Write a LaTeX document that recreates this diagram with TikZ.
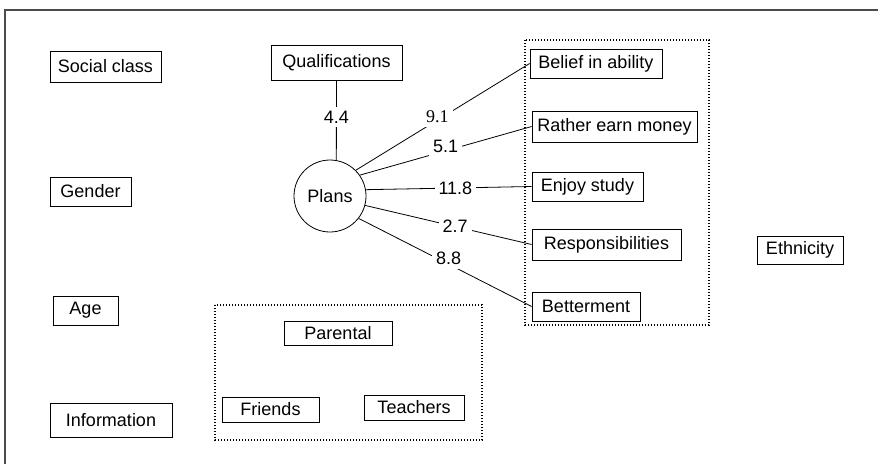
\documentclass[tikz,border=0pt]{standalone}
\usepackage{fontspec}
\setmainfont{Liberation Sans}
\newfontfamily\timesfont{Liberation Serif}
\usetikzlibrary{arrows.meta}

\begin{document}
\begin{tikzpicture}[
    x=1pt, y=-1pt,
    every node/.style={font=\fontsize{18}{21}\selectfont},
    factor/.style={draw, line width=0.8pt, inner sep=0pt, minimum height=29pt},
    hub/.style={draw, circle, line width=0.8pt, inner sep=0pt, minimum size=72pt},
    group/.style={line width=1.3pt, dash pattern=on 1.2pt off 1.8pt},
    link/.style={line width=0.8pt},
    odds/.style={fill=white, inner sep=4pt}
]
\useasboundingbox (0,0) rectangle (878,464);
\draw[line width=1.5pt, black!70] (878,10) -- (5,10) -- (5,464);

% groups of factors
\draw[group] (525,40) rectangle (709,325);
\draw[group] (215,305) rectangle (482,440);

% left column
\node[factor, minimum width=111pt, minimum height=31pt] (social) at (105.5,66.5) {Social class};
\node[factor, minimum width=81pt] (gender) at (90.5,191.5) {Gender};
\node[factor, minimum width=65pt] (age) at (85.5,310.5) {Age};
\node[factor, minimum width=122pt, minimum height=34pt] (info) at (111,420) {Information};

% centre
\node[factor, minimum width=131pt, minimum height=35pt] (qual) at (336.5,62.5) {Qualifications};
\node[hub] (plans) at (330,196) {Plans};

% right column
\node[factor, minimum width=132pt] (belief) at (596,63.5) {Belief in ability};
\node[factor, minimum width=165pt, minimum height=31pt] (money) at (614.5,126.5) {Rather earn money};
\node[factor, minimum width=111pt] (enjoy) at (587.5,186.5) {Enjoy study};
\node[factor, minimum width=149pt, minimum height=31pt] (resp) at (606.5,244.5) {Responsibilities};
\node[factor, minimum width=108pt] (better) at (586,306.5) {Betterment};
\node[factor, minimum width=86pt, minimum height=28pt] (ethnic) at (800,250) {Ethnicity};

% influences
\node[factor, minimum width=108pt, minimum height=24pt] (parental) at (338,333) {Parental};
\node[factor, minimum width=97pt, minimum height=25pt] (friends) at (270.5,409.5) {Friends};
\node[factor, minimum width=100pt, minimum height=25pt] (teachers) at (414,407.5) {Teachers};

\draw[link] (qual.south) -- node[odds, pos=0.46] {4.4} (plans.80);
\draw[link] (plans.45) -- node[odds, pos=0.47, yshift=3pt] {\timesfont 9.1} (belief.west);
\draw[link] (plans.35) -- node[odds, pos=0.5, yshift=4pt] {5.1} (money.west);
\draw[link] (plans.10) -- node[odds, pos=0.54] {11.8} (enjoy.west);
\draw[link] (plans.-15) -- node[odds, pos=0.54] {2.7} (resp.west);
\draw[link] (plans.-38) -- node[odds, pos=0.52, yshift=6pt] {8.8} (better.west);
\end{tikzpicture}
\end{document}
